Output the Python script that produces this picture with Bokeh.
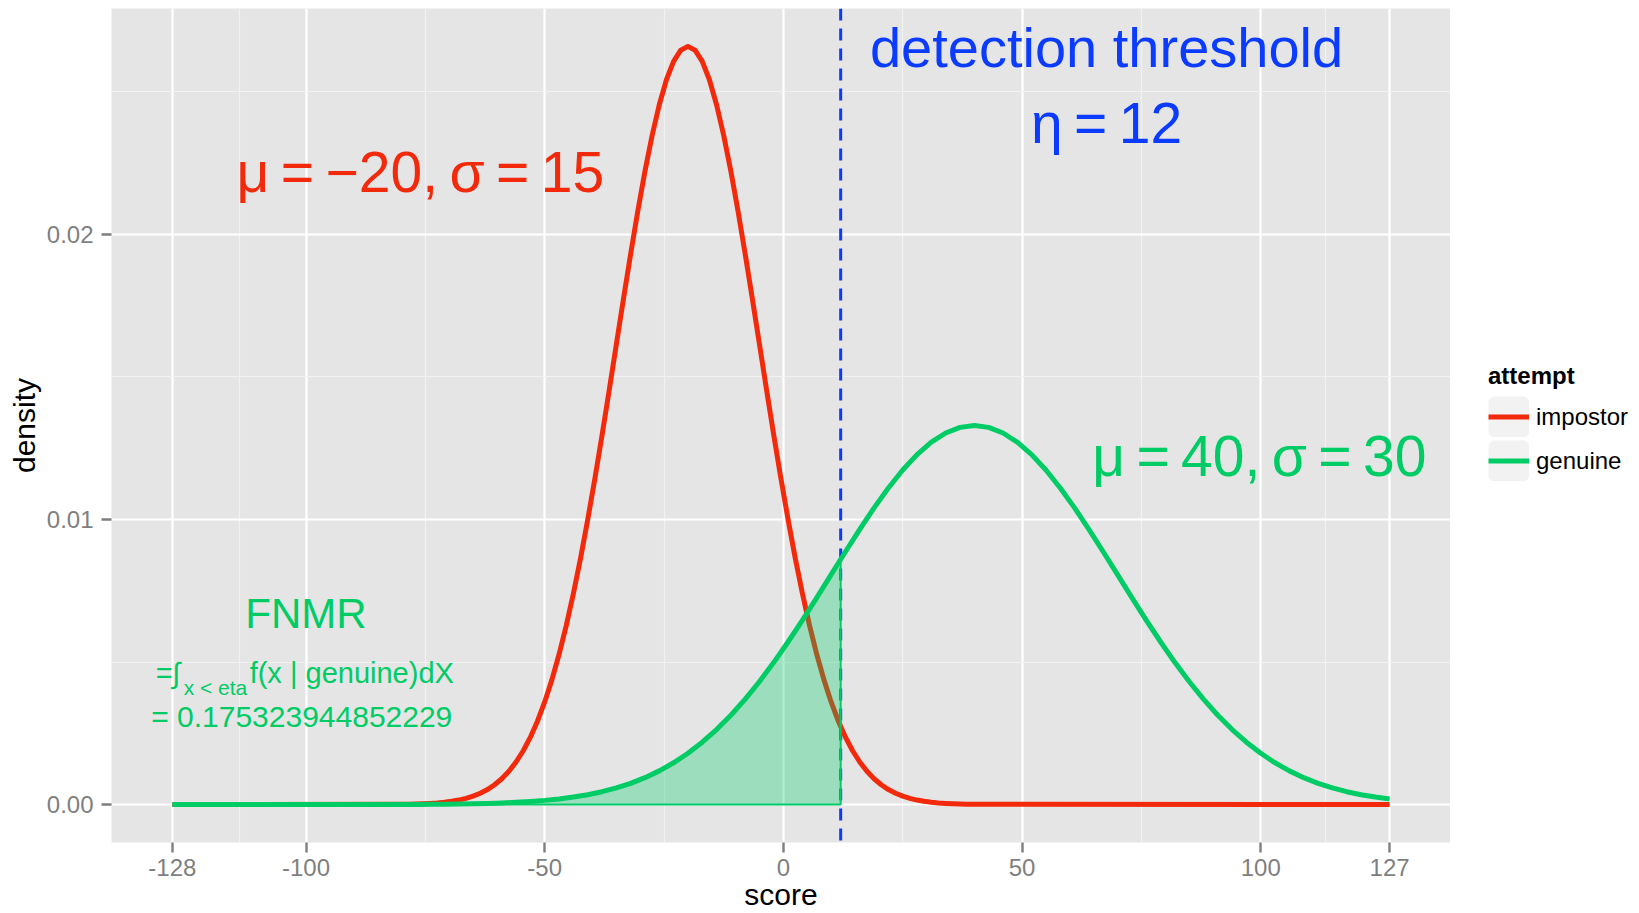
from bokeh.plotting import figure
from bokeh.layouts import row
from bokeh.models import Range1d, FixedTicker, Span, Label, Legend, LegendItem
from bokeh.embed import file_html
from bokeh.resources import INLINE

# ---------------- data ----------------
threshold = 12
genuine_at_threshold = 0.0086027

x_ticks = [-128, -100, -50, 0, 50, 100, 127]
x_tick_labels = ["-128", "-100", "-50", "0", "50", "100", "127"]
x_minor = [-114, -75, -25, 25, 75, 113.5]
y_ticks = [0.0, 0.01, 0.02]
y_tick_labels = ["0.00", "0.01", "0.02"]
y_minor = [0.005, 0.015, 0.025]

series_names = ["impostor", "genuine"]

impostor_x = [-128] + [-80 + 1.5 * k for k in range(81)] + [127]
impostor_y = [0.0,
    0.0000089, 0.0000133, 0.0000195, 0.0000283, 0.0000408, 0.0000582, 0.0000821, 0.0001149,
    0.0001589, 0.0002178, 0.0002955, 0.0003969, 0.0005277, 0.0006947, 0.0009055, 0.0011685,
    0.0014930, 0.0018885, 0.0023650, 0.0029323, 0.0035994, 0.0043744, 0.0052633, 0.0062699,
    0.0073947, 0.0086345, 0.0099818, 0.0114246, 0.0129457, 0.0145235, 0.0161314, 0.0177390,
    0.0193128, 0.0208169, 0.0222150, 0.0234710, 0.0245513, 0.0254259, 0.0260695, 0.0264635,
    0.0265962,
    0.0264635, 0.0260695, 0.0254259, 0.0245513, 0.0234710, 0.0222150, 0.0208169, 0.0193128,
    0.0177390, 0.0161314, 0.0145235, 0.0129457, 0.0114246, 0.0099818, 0.0086345, 0.0073947,
    0.0062699, 0.0052633, 0.0043744, 0.0035994, 0.0029323, 0.0023650, 0.0018885, 0.0014930,
    0.0011685, 0.0009055, 0.0006947, 0.0005277, 0.0003969, 0.0002955, 0.0002178, 0.0001589,
    0.0001149, 0.0000821, 0.0000582, 0.0000408, 0.0000283, 0.0000195, 0.0000133, 0.0000089,
    0.0]

genuine_x = list(range(-128, 128, 3))
genuine_y = [
    0.0, 0.0, 0.0, 0.0, 0.0, 0.0,
    0.00000005, 0.00000008, 0.00000013, 0.00000021, 0.00000034, 0.00000053, 0.00000083,
    0.00000128, 0.00000196, 0.00000298, 0.0000045, 0.0000066, 0.0000097, 0.0000142,
    0.0000204, 0.0000291, 0.0000411, 0.0000574, 0.0000795, 0.0001089, 0.0001477, 0.0001984,
    0.0002638, 0.0003474, 0.0004528, 0.0005843, 0.0007465, 0.0009442, 0.0011825, 0.0014661,
    0.0017997, 0.0021872, 0.0026317, 0.0031350, 0.0036974, 0.0043173, 0.0049909, 0.0057123,
    0.0064729, 0.0072617, 0.0080657, 0.0088695, 0.0096564, 0.0104085, 0.0111075, 0.0117355,
    0.0122757, 0.0127129, 0.0130348, 0.0132318, 0.0132981,
    0.0132318, 0.0130348, 0.0127129, 0.0122757, 0.0117355, 0.0111075, 0.0104085, 0.0096564,
    0.0088695, 0.0080657, 0.0072617, 0.0064729, 0.0057123, 0.0049909, 0.0043173, 0.0036974,
    0.0031350, 0.0026317, 0.0021872, 0.0017997, 0.0014661, 0.0011825, 0.0009442, 0.0007465,
    0.0005843, 0.0004528, 0.0003474, 0.0002638, 0.0001984]

# ---------------- style ----------------
RED = "#F3290B"
GREEN = "#00CC66"
BLUE = "#0B3BFF"
FONT = "Liberation Sans"

# ranges with ggplot-like 5% expansion
all_x = impostor_x + genuine_x
xlo, xhi = min(all_x), max(all_x)
xpad = 0.05 * (xhi - xlo)
ymax = max(impostor_y + genuine_y)
ypad = 0.05 * ymax

p = figure(width=1450, height=913, output_backend="svg", toolbar_location=None,
           x_range=Range1d(xlo - xpad, xhi + xpad), y_range=Range1d(-ypad, ymax + ypad),
           min_border_left=111, min_border_right=0, min_border_top=8, min_border_bottom=70)
p.background_fill_color = "#E5E5E5"
p.border_fill_color = "white"
p.outline_line_color = None

xt = FixedTicker(ticks=x_ticks, minor_ticks=x_minor)
yt = FixedTicker(ticks=y_ticks, minor_ticks=y_minor)
p.xaxis.ticker = xt
p.yaxis.ticker = yt
p.xgrid.ticker = xt
p.ygrid.ticker = yt
for g in (p.xgrid, p.ygrid):
    g.grid_line_color = "white"
    g.grid_line_width = 2.2
    g.minor_grid_line_color = "#F2F2F2"
    g.minor_grid_line_width = 1.1

p.xaxis.major_label_overrides = dict(zip(x_ticks, x_tick_labels))
p.yaxis.major_label_overrides = dict(zip(y_ticks, y_tick_labels))
for ax in (p.xaxis, p.yaxis):
    ax.axis_line_color = None
    ax.major_tick_line_color = "#7F7F7F"
    ax.major_tick_line_width = 2.4
    ax.major_tick_out = 10
    ax.major_tick_in = 0
    ax.minor_tick_line_color = None
    ax.major_label_text_color = "#7F7F7F"
    ax.major_label_text_font = FONT
    ax.major_label_text_font_size = "24px"
    ax.axis_label_text_font = FONT
    ax.axis_label_text_font_size = "30px"
    ax.axis_label_text_font_style = "normal"
    ax.axis_label_text_color = "black"
p.xaxis.major_label_standoff = 6
p.yaxis.major_label_standoff = 8
p.xaxis.axis_label = "score"
p.xaxis.axis_label_standoff = -1
p.yaxis.axis_label = "density"
p.yaxis.axis_label_standoff = 3

# threshold line (under the curves)
p.add_layout(Span(location=threshold, dimension="height", line_color=BLUE,
                  line_dash="12 8", line_width=3, level="underlay"))

red_r = p.line(impostor_x, impostor_y, line_color=RED, line_width=5, line_join="round")

shade_x = [x for x in genuine_x if x <= threshold]
shade_y = genuine_y[:len(shade_x)]
poly_x = shade_x + [threshold, threshold, shade_x[0]]
poly_y = shade_y + [genuine_at_threshold, 0.0, 0.0]
p.patch(poly_x, poly_y, fill_color=GREEN, fill_alpha=0.32, line_color=GREEN, line_width=2)

green_r = p.line(genuine_x, genuine_y, line_color=GREEN, line_width=5, line_join="round")

# ---------------- annotations ----------------
def lab(x, y, text, size, color, align="center", dx=0):
    p.add_layout(Label(x=x, y=y, x_offset=dx, text=text, text_font=FONT, text_font_size=size,
                       text_color=color, text_align=align, text_baseline="alphabetic"))

T = "\u2009"
lab(-76.05, 0.022201, f"μ{T}={T}−20,{T}σ{T}={T}15", "57px", RED)
lab(99.7, 0.012243, f"μ{T}={T}40,{T}σ{T}={T}30", "57px", GREEN)
lab(67.7, 0.026565, "detection threshold", "56px", BLUE)
lab(67.7, 0.023894, f"η{T}={T}12", "57px", BLUE)
lab(-100.0, 0.006698, "FNMR", "42px", GREEN)
lab(-131.5, 0.004602, "=∫", "29px", GREEN, "left")
lab(-131.5, 0.004115, "x < eta", "21px", GREEN, "left", 28)
lab(-131.5, 0.004602, "f(x | genuine)dX", "29px", GREEN, "left", 94)
lab(-100.9, 0.003105, "= 0.175323944852229", "30px", GREEN)

# ---------------- legend (separate panel on the right) ----------------
leg = figure(width=189, height=913, output_backend="svg", toolbar_location=None,
             x_range=Range1d(0, 1), y_range=Range1d(0, 1),
             x_axis_type=None, y_axis_type=None, min_border=0)
leg.outline_line_color = None
leg.background_fill_color = "white"
leg.border_fill_color = "white"
leg.xgrid.visible = False
leg.ygrid.visible = False
# placeholder glyphs outside the visible range, used only for the legend keys
key_bg = leg.rect(x=[-5], y=[-5], width=1, height=1, fill_color="#F2F2F2",
                  line_color="#F2F2F2", line_width=8)
key_red = leg.line(x=[-6, -5], y=[-5, -5], line_color=RED, line_width=5)
key_green = leg.line(x=[-6, -5], y=[-5, -5], line_color=GREEN, line_width=5)

legend = Legend(items=[LegendItem(label=series_names[0], renderers=[key_bg, key_red]),
                       LegendItem(label=series_names[1], renderers=[key_bg, key_green])],
                location=(38, 361), orientation="vertical",
                title="attempt", title_text_font=FONT, title_text_font_style="bold",
                title_text_font_size="24px", title_text_color="black", title_standoff=6,
                label_text_font=FONT, label_text_font_size="24px", label_text_color="black",
                glyph_width=41, glyph_height=41, spacing=3, padding=0, margin=0,
                label_standoff=7, border_line_color=None, background_fill_alpha=0)
leg.add_layout(legend)

layout = row(p, leg, spacing=0)
open("out.html", "w").write(file_html(layout, INLINE, "density"))
